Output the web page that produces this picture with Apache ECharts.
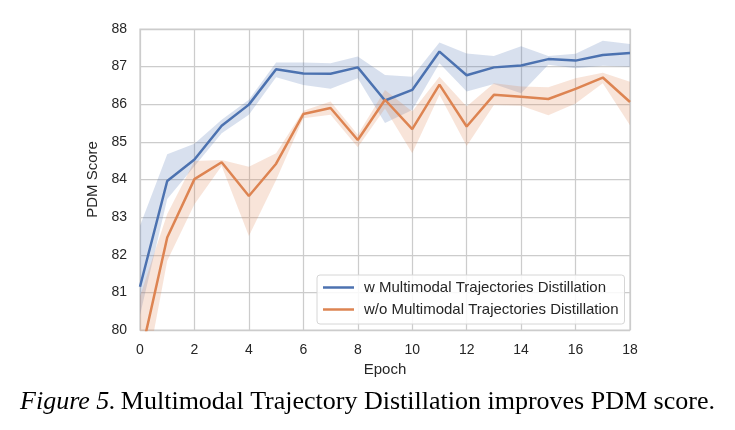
<!DOCTYPE html>
<html>
<head>
<meta charset="utf-8">
<script src="https://cdn.jsdelivr.net/npm/echarts@6/dist/echarts.min.js"></script>
<style>
  html, body { margin: 0; padding: 0; background: #fff; }
  #main { width: 735px; height: 430px; }
</style>
</head>
<body>
<div id="main"></div>
<script>
var epochs = ['0', '1', '2', '3', '4', '5', '6', '7', '8', '9', '10', '11', '12', '13', '14', '15', '16', '17', '18'];

// w Multimodal Trajectories Distillation
var withMean = [81.15, 83.96, 84.53, 85.43, 85.99, 86.93, 86.82, 86.81, 86.98, 86.10, 86.38, 87.40, 86.77, 86.98, 87.03, 87.20, 87.16, 87.31, 87.36];
var withLow  = [80.40, 83.48, 84.35, 85.23, 85.72, 86.72, 86.51, 86.41, 86.69, 85.50, 85.85, 87.09, 86.34, 86.54, 86.29, 87.05, 86.96, 87.02, 87.00];
var withHigh = [82.77, 84.67, 84.95, 85.59, 86.12, 87.11, 87.11, 87.09, 87.27, 86.78, 86.73, 87.64, 87.35, 87.28, 87.54, 87.28, 87.34, 87.69, 87.60];

// w/o Multimodal Trajectories Distillation
var woMean = [79.23, 82.46, 84.01, 84.46, 83.56, 84.42, 85.74, 85.90, 85.05, 86.12, 85.34, 86.52, 85.41, 86.25, 86.20, 86.14, 86.41, 86.71, 86.06];
var woLow  = [78.00, 81.84, 83.34, 84.36, 82.50, 83.99, 85.63, 85.72, 84.86, 85.89, 84.70, 86.25, 84.89, 85.98, 85.96, 85.71, 86.02, 86.56, 85.44];
var woHigh = [80.90, 83.08, 84.49, 84.52, 84.34, 84.70, 85.83, 86.07, 85.19, 86.38, 85.81, 86.73, 85.94, 86.56, 86.47, 86.45, 86.69, 86.84, 86.60];

var names = ['w Multimodal Trajectories Distillation', 'w/o Multimodal Trajectories Distillation'];
var blue = '#4c72b0';
var orange = '#dd8452';

function widths(lo, hi) {
    var out = [];
    for (var i = 0; i < lo.length; i++) out.push(+(hi[i] - lo[i]).toFixed(3));
    return out;
}

// confidence band = invisible lower line + stacked width filled
function bandSeries(lo, hi, color, stackName) {
    return [
        {
            type: 'line', stack: stackName, data: lo, symbol: 'none',
            lineStyle: { opacity: 0 }, silent: true, z: 1
        },
        {
            type: 'line', stack: stackName, data: widths(lo, hi), symbol: 'none',
            lineStyle: { opacity: 0 }, areaStyle: { color: color, opacity: 0.22 }, silent: true, z: 1
        }
    ];
}

var chart = echarts.init(document.getElementById('main'));

var series = [];
series = series.concat(bandSeries(withLow, withHigh, blue, 'bandW'));
series = series.concat(bandSeries(woLow, woHigh, orange, 'bandWo'));
series.push({
    name: names[0], type: 'line', data: withMean, symbol: 'none',
    lineStyle: { color: blue, width: 2.5 }, itemStyle: { color: blue }, z: 3
});
series.push({
    name: names[1], type: 'line', data: woMean, symbol: 'none',
    lineStyle: { color: orange, width: 2.5 }, itemStyle: { color: orange }, z: 3
});

var option = {
    animation: false,
    backgroundColor: '#fff',
    textStyle: { fontFamily: 'Liberation Sans' },
    title: {
        text: '{i|Figure 5.} {n|Multimodal Trajectory Distillation improves PDM score.}',
        left: 'center',
        top: 384,
        textStyle: {
            fontWeight: 'normal',
            rich: {
                i: { fontFamily: 'Liberation Serif', fontStyle: 'italic', fontWeight: 'normal', fontSize: 26, color: '#000' },
                n: { fontFamily: 'Liberation Serif', fontWeight: 'normal', fontSize: 26, color: '#000' }
            }
        }
    },
    grid: {
        left: 140, right: 105, top: 29, bottom: 100,
        show: true, borderColor: '#cccccc', borderWidth: 1.25
    },
    legend: {
        data: names,
        orient: 'vertical',
        left: 317, top: 275,
        icon: 'rect', itemWidth: 31, itemHeight: 2.5, itemGap: 5,
        padding: [4, 6, 6, 6],
        backgroundColor: 'rgba(255,255,255,0.85)',
        borderColor: '#d6d6d6', borderWidth: 1, borderRadius: 3,
        textStyle: { fontSize: 15, lineHeight: 17, color: '#262626', fontFamily: 'Liberation Sans', padding: [0, 0, 0, 5] }
    },
    xAxis: {
        type: 'category', data: epochs, boundaryGap: false,
        name: 'Epoch', nameLocation: 'middle', nameGap: 32,
        nameTextStyle: { fontSize: 15, color: '#262626' },
        axisLine: { show: false },
        axisTick: { show: false, interval: 1 },
        axisLabel: { fontSize: 14, color: '#262626', margin: 13, interval: 1 },
        splitLine: { show: true, interval: 1, lineStyle: { color: '#cccccc', width: 1.25 } }
    },
    yAxis: {
        type: 'value', min: 80, max: 88, interval: 1,
        name: 'PDM Score', nameLocation: 'middle', nameGap: 33, nameRotate: 90,
        nameTextStyle: { fontSize: 15, color: '#262626' },
        axisLine: { show: false }, axisTick: { show: false },
        axisLabel: { fontSize: 14, color: '#262626', margin: 13 },
        splitLine: { lineStyle: { color: '#cccccc', width: 1.25 } }
    },
    series: series
};

chart.setOption(option);
</script>
</body>
</html>
